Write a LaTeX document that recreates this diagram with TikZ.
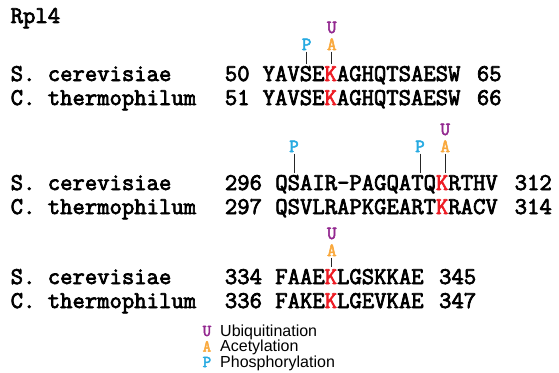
\documentclass[tikz,border=0pt]{standalone}
\usepackage{fontspec}
\setmainfont{Liberation Sans}
\newfontfamily\seqfont{Latin Modern Mono}[FakeBold=3]

\definecolor{ubq}{HTML}{92278F}
\definecolor{acy}{HTML}{F9A83C}
\definecolor{pho}{HTML}{27AAE1}
\definecolor{lys}{HTML}{ED1C24}

\newcommand{\lys}{\textcolor{lys}{K}}

\tikzset{
  seq/.style={anchor=base west,inner sep=0pt,font=\seqfont\fontsize{24}{26}\selectfont},
  site/.style={anchor=base,inner sep=0pt,font=\seqfont\fontsize{18.5}{20}\selectfont},
  tick/.style={draw=black!85,line width=0.9pt,shorten <=1.5pt,shorten >=1.5pt},
  keyletter/.style={anchor=base west,inner sep=0pt,font=\seqfont\fontsize{16.5}{18}\selectfont},
  keytext/.style={anchor=base west,inner sep=0pt,font=\fontsize{16}{18}\selectfont}
}

\begin{document}
\begin{tikzpicture}[x=12.6pt,y=-1pt]
\useasboundingbox (0pt,0pt) rectangle (559pt,-372pt);
\begin{scope}[xshift=10.5pt]
\node[seq] (title) at (0,23) {Rpl4};
% species names
\foreach \y/\i in {81/1,190/2,284/3}{
  \node[seq] (sc\i) at (0,\y) {S. cerevisiae};
  \node[seq] (ct\i) at (0,\y+24) {C. thermophilum};
}
% block 1
\node[seq] (sc1a) at (17,81) {50};
\node[seq] (sc1s) at (20,81) {YAVSE\lys AGHQTSAESW};
\node[seq] (sc1b) at (37,81) {65};
\node[seq] (ct1a) at (17,105) {51};
\node[seq] (ct1s) at (20,105) {YAVSE\lys AGHQTSAESW};
\node[seq] (ct1b) at (37,105) {66};
% block 2
\node[seq] (sc2a) at (17,190) {296};
\node[seq] (sc2s) at (21,190) {QSAIR-PAGQATQ\lys RTHV};
\node[seq] (sc2b) at (40,190) {312};
\node[seq] (ct2a) at (17,214) {297};
\node[seq] (ct2s) at (21,214) {QSVLRAPKGEART\lys RACV};
\node[seq] (ct2b) at (40,214) {314};
% block 3
\node[seq] (sc3a) at (17,284) {334};
\node[seq] (sc3s) at (21,284) {FAAE\lys LGSKKAE};
\node[seq] (sc3b) at (34,284) {345};
\node[seq] (ct3a) at (17,308) {336};
\node[seq] (ct3s) at (21,308) {FAKE\lys LGEVKAE};
\node[seq] (ct3b) at (34,308) {347};
% modification sites
\node[site,text=pho] (p1) at (23.5,50) {P};
\node[site,text=acy] (a1) at (25.5,50) {A};
\node[site,text=ubq] (u1) at (25.5,33) {U};
\node[site,text=pho] (p2) at (22.5,152) {P};
\node[site,text=pho] (p3) at (32.5,152) {P};
\node[site,text=acy] (a2) at (34.5,152) {A};
\node[site,text=ubq] (u2) at (34.5,135) {U};
\node[site,text=acy] (a3) at (25.5,256) {A};
\node[site,text=ubq] (u3) at (25.5,239) {U};
\foreach \m/\s in {p1/sc1s,a1/sc1s,p2/sc2s,p3/sc2s,a2/sc2s,a3/sc3s}
  \draw[tick] (\m.south) -- (\m.south |- \s.north);
\end{scope}
% legend
\node[keyletter,text=ubq] (ku) at (202.5pt,-336pt) {U};
\node[keyletter,text=acy] (ka) at (202.5pt,-351.5pt) {A};
\node[keyletter,text=pho] (kp) at (202.5pt,-367pt) {P};
\node[keytext] (tu) at (220pt,-336pt) {Ubiquitination};
\node[keytext] (ta) at (220pt,-351.5pt) {Acetylation};
\node[keytext] (tp) at (220pt,-367pt) {Phosphorylation};
\end{tikzpicture}
\end{document}
